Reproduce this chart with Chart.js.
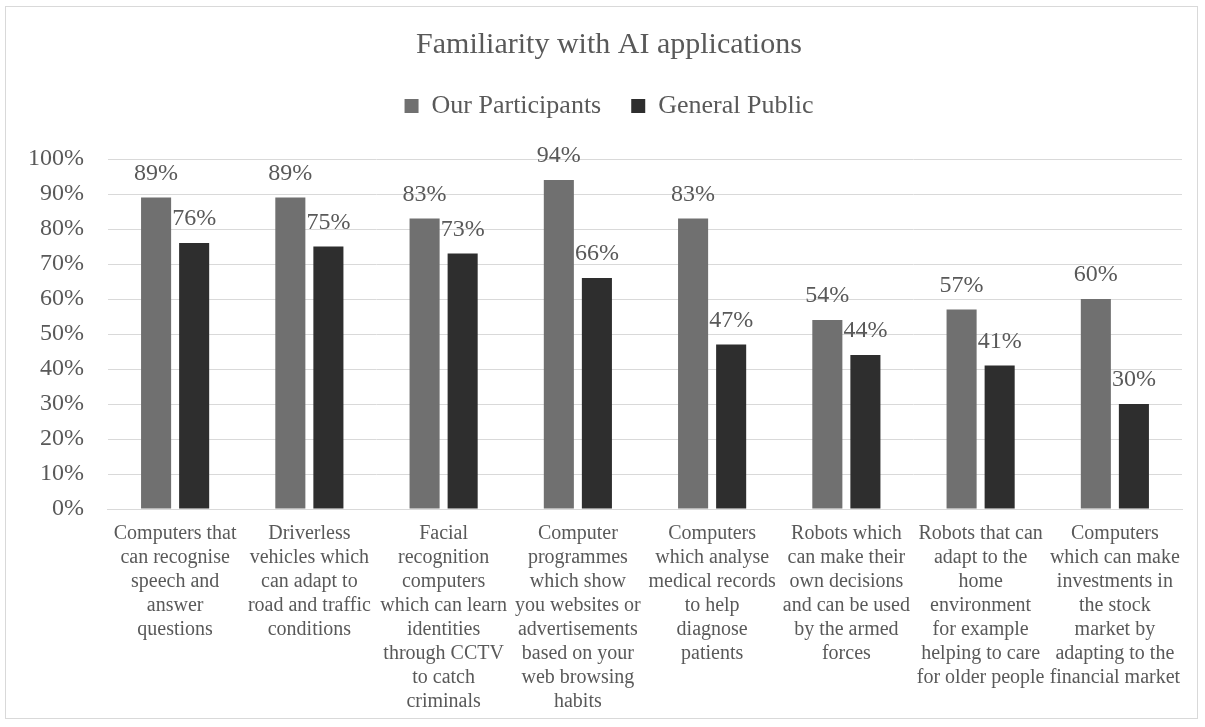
<!DOCTYPE html>
<html>
<head>
<meta charset="utf-8">
<script src="https://cdn.jsdelivr.net/npm/chart.js@4"></script>
<style>
  html, body { margin: 0; padding: 0; background: #ffffff; }
  #wrap { position: relative; width: 1205px; height: 727px; }
  #frame { position: absolute; left: 5px; top: 6px; width: 1193px; height: 713px; border: 1px solid #d9d9d9; box-sizing: border-box; }
  canvas { position: absolute; left: 0; top: 0; }
</style>
</head>
<body>
<div id="wrap">
  <div id="frame"></div>
  <canvas id="chart" width="1205" height="727"></canvas>
</div>
<script>
// Application categories, one wrapped label per bar group
const categories = [
  ["Computers that", "can recognise", "speech and", "answer", "questions"],
  ["Driverless", "vehicles which", "can adapt to", "road and traffic", "conditions"],
  ["Facial", "recognition", "computers", "which can learn", "identities", "through CCTV", "to catch", "criminals"],
  ["Computer", "programmes", "which show", "you websites or", "advertisements", "based on your", "web browsing", "habits"],
  ["Computers", "which analyse", "medical records", "to help", "diagnose", "patients"],
  ["Robots which", "can make their", "own decisions", "and can be used", "by the armed", "forces"],
  ["Robots that can", "adapt to the", "home", "environment", "for example", "helping to care", "for older people"],
  ["Computers", "which can make", "investments in", "the stock", "market by", "adapting to the", "financial market"]
];

// Share familiar with each application (%)
const ourParticipants = [89, 89, 83, 94, 83, 54, 57, 60];
const generalPublic   = [76, 75, 73, 66, 47, 44, 41, 30];

const seriesNames = ["Our Participants", "General Public"];
const yTicks = [0, 10, 20, 30, 40, 50, 60, 70, 80, 90, 100];

const TEXT = "#595959";
const FONT = "'Liberation Serif', 'DejaVu Serif', serif";
const LEGEND_BLOCK = 96;   // vertical space kept for the legend row
const HEADER_SHIFT = 16;   // title and legend sit centred on the whole frame

// Writes each bar's value above its top
const valueLabels = {
  id: "valueLabels",
  afterDatasetsDraw(chart) {
    const ctx = chart.ctx;
    ctx.save();
    ctx.font = "24px " + FONT;
    ctx.fillStyle = TEXT;
    ctx.textAlign = "center";
    ctx.textBaseline = "middle";
    chart.data.datasets.forEach((ds, i) => {
      const meta = chart.getDatasetMeta(i);
      meta.data.forEach((bar, j) => {
        ctx.fillText(ds.data[j] + "%", bar.x, bar.y - 24);
      });
    });
    ctx.restore();
  }
};

// Leaves a fixed band below the legend and centres the header on the frame
const headerLayout = {
  id: "headerLayout",
  beforeInit(chart) {
    const legend = chart.legend;
    if (!legend) return;
    const fit = legend.fit;
    legend.fit = function () {
      fit.call(this);
      this.height = LEGEND_BLOCK;
    };
  },
  afterLayout(chart) {
    [chart.titleBlock, chart.legend].forEach(b => {
      if (b) { b.left += HEADER_SHIFT; b.right += HEADER_SHIFT; }
    });
  }
};

new Chart(document.getElementById("chart"), {
  type: "bar",
  data: {
    labels: categories,
    datasets: [
      { label: seriesNames[0], data: ourParticipants, backgroundColor: "#707070",
        barPercentage: 0.79, categoryPercentage: 0.567 },
      { label: seriesNames[1], data: generalPublic, backgroundColor: "#2e2e2e",
        barPercentage: 0.79, categoryPercentage: 0.567 }
    ]
  },
  options: {
    responsive: false,
    animation: false,
    layout: { padding: { left: 4, right: 23, top: 0, bottom: 0 } },
    plugins: {
      title: {
        display: true,
        text: "Familiarity with AI applications",
        color: TEXT,
        font: { family: FONT, size: 30, weight: "normal" },
        padding: { top: 27, bottom: 0 }
      },
      legend: {
        display: true,
        position: "top",
        labels: {
          color: TEXT,
          font: { family: FONT, size: 26 },
          boxWidth: 14,
          boxHeight: 14,
          padding: 30
        }
      },
      tooltip: { enabled: false }
    },
    scales: {
      x: {
        grid: { display: false, drawTicks: false },
        border: { display: true, color: "#d9d9d9", width: 1 },
        ticks: {
          color: TEXT,
          font: { family: FONT, size: 20, lineHeight: 1.2 },
          maxRotation: 0,
          autoSkip: false,
          padding: 13
        }
      },
      y: {
        min: 0,
        max: 100,
        afterBuildTicks(axis) { axis.ticks = yTicks.map(v => ({ value: v })); },
        grid: { color: "#d9d9d9", drawTicks: false },
        border: { display: false },
        ticks: {
          color: TEXT,
          font: { family: FONT, size: 24 },
          padding: 24,
          callback: v => v + "%"
        }
      }
    }
  },
  plugins: [valueLabels, headerLayout]
});
</script>
</body>
</html>
